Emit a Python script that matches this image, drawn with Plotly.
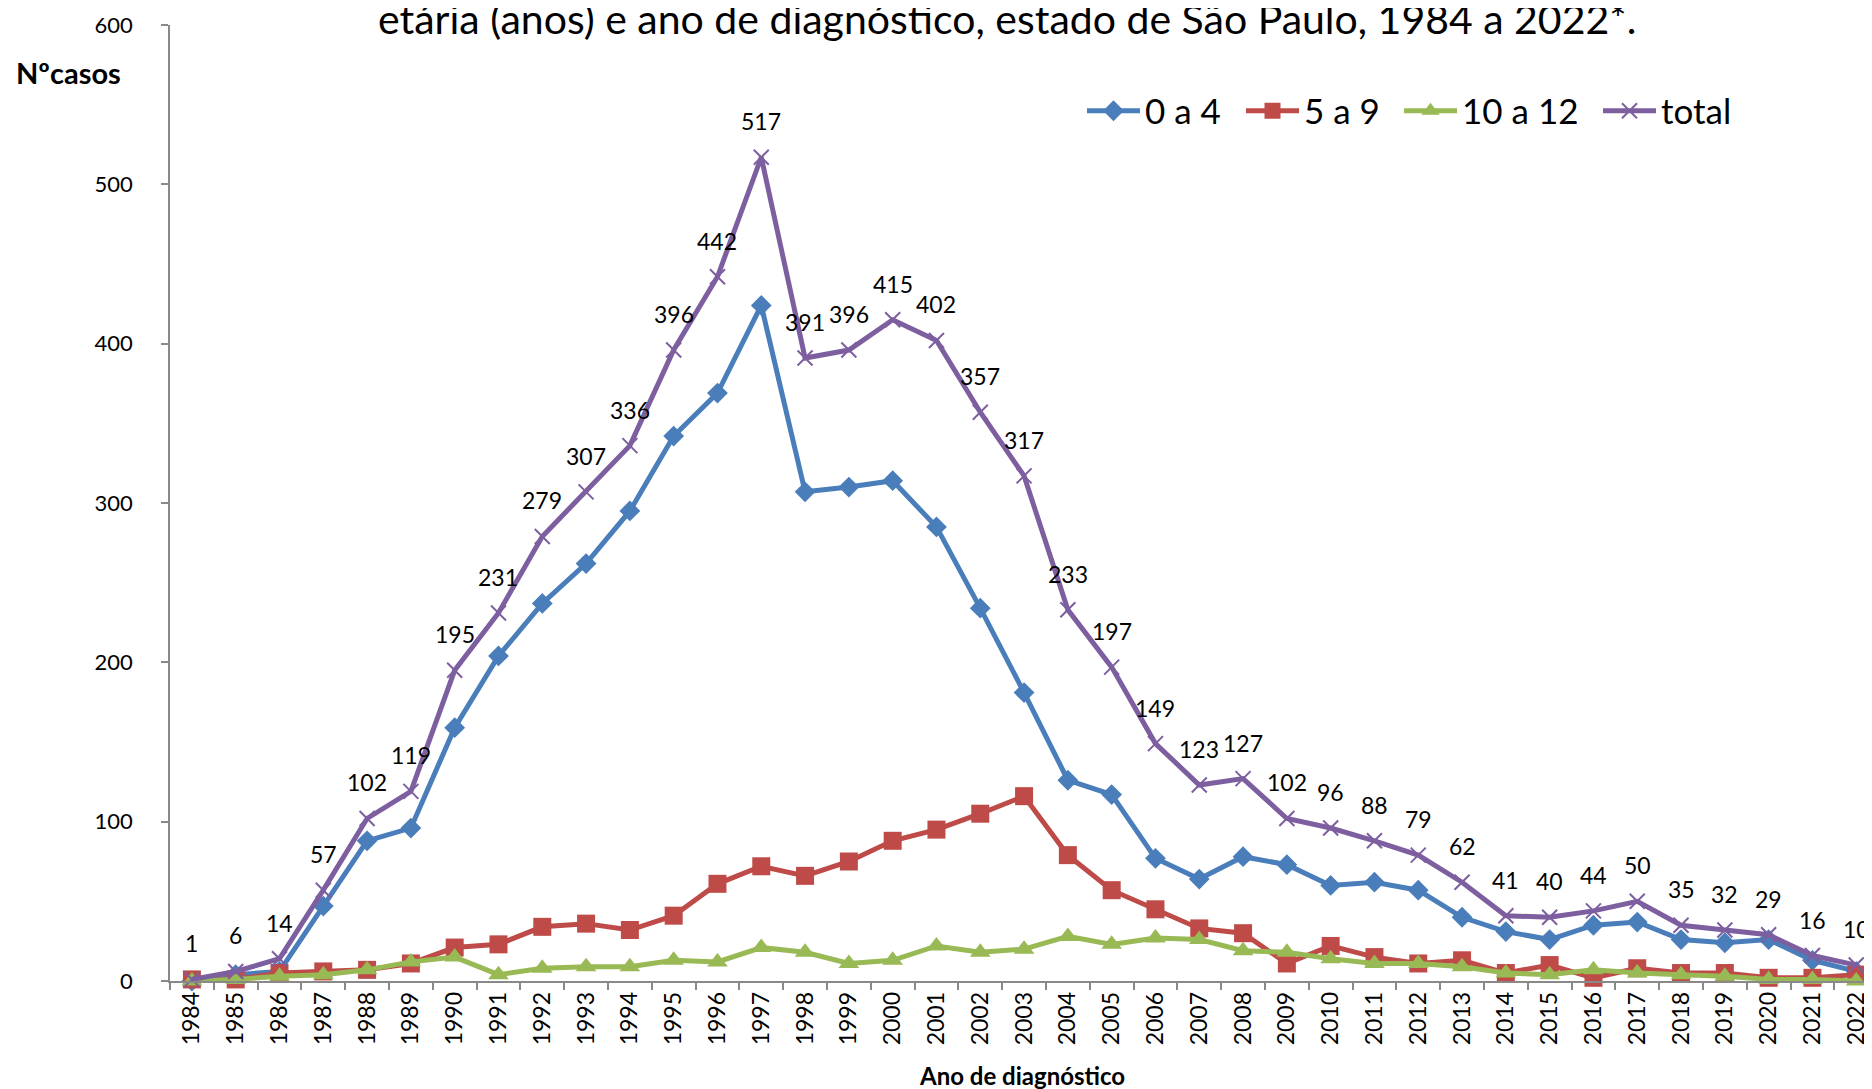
import plotly.graph_objects as go

years = [str(y) for y in range(1984, 2023)]
age_0_4 = [0, 4, 6, 47, 88, 96, 159, 204, 237, 262, 295, 342, 369, 424, 307, 310, 314, 285, 234, 181,
           126, 117, 77, 64, 78, 73, 60, 62, 57, 40, 31, 26, 35, 37, 26, 24, 26, 13, 6]
age_5_9 = [1, 1, 5, 6, 7, 11, 21, 23, 34, 36, 32, 41, 61, 72, 66, 75, 88, 95, 105, 116,
           79, 57, 45, 33, 30, 11, 22, 15, 11, 13, 5, 10, 2, 8, 5, 5, 2, 2, 4]
age_10_12 = [0, 1, 3, 4, 7, 12, 15, 4, 8, 9, 9, 13, 12, 21, 18, 11, 13, 22, 18, 20,
             28, 23, 27, 26, 19, 18, 14, 11, 11, 9, 5, 4, 7, 5, 4, 3, 1, 1, 0]
total = [1, 6, 14, 57, 102, 119, 195, 231, 279, 307, 336, 396, 442, 517, 391, 396, 415, 402, 357, 317,
         233, 197, 149, 123, 127, 102, 96, 88, 79, 62, 41, 40, 44, 50, 35, 32, 29, 16, 10]
series_names = ["0 a 4", "5 a 9", "10 a 12", "total"]

title_text = "etária (anos) e ano de diagnóstico, estado de São Paulo, 1984 a 2022*."
y_title = "Nºcasos"
x_title = "Ano de diagnóstico"

FONT = "Lato"
fig = go.Figure()

styles = [
    dict(color="#4A7EBB", symbol="diamond", size=16, lw=91),
    dict(color="#BE4B48", symbol="square", size=18, lw=90),
    dict(color="#98B954", symbol="triangle-up", size=18, lw=131),
]
for name, vals, st in zip(series_names[:3], [age_0_4, age_5_9, age_10_12], styles):
    fig.add_trace(go.Scatter(
        x=years, y=vals, name=name, mode="lines+markers",
        line=dict(color=st["color"], width=5),
        marker=dict(symbol=st["symbol"], size=st["size"], color=st["color"]),
        cliponaxis=False, legendwidth=st["lw"],
    ))

fig.add_trace(go.Scatter(
    x=years, y=total, name=series_names[3], mode="lines+markers",
    line=dict(color="#7D5FA0", width=5),
    marker=dict(symbol="x-thin", size=15, color="#7D5FA0",
                line=dict(color="#7D5FA0", width=2)),
    cliponaxis=False,
))

for i, v in enumerate(total):
    fig.add_annotation(x=i, y=v, xref="x", yref="y", text=str(v), showarrow=False,
                       yshift=36, font=dict(family=FONT, size=23, color="black"))

# page body has an 8px default margin; work in screenshot pixels
OFF = 8
FW, FH = 1872 - OFF, 1089 - OFF
PL, PT, PB, PR = 170, 25, 981, 1872  # plot area in screenshot px
L, T, B, R = PL - OFF, PT - OFF, FH - (PB - OFF), 0
pw = FW - L - R
ph = FH - T - B


def px_x(sx):
    return (sx - PL) / pw


def px_y(sy):
    return (PB - sy) / ph


fig.add_annotation(text=title_text, xref="paper", yref="paper", x=px_x(1007), y=px_y(45),
                   xanchor="center", yanchor="bottom", showarrow=False,
                   font=dict(family=FONT, size=41, color="black"))
fig.add_annotation(text="<b>" + y_title + "</b>", xref="paper", yref="paper", x=px_x(14), y=px_y(72),
                   xanchor="left", yanchor="middle", showarrow=False,
                   font=dict(family=FONT, size=29, color="black"))
fig.add_annotation(text="<b>" + x_title + "</b>", xref="paper", yref="paper", x=px_x(1022), y=px_y(1075),
                   xanchor="center", yanchor="middle", showarrow=False,
                   font=dict(family=FONT, size=24, color="black"))

fig.update_layout(
    width=FW, height=FH,
    margin=dict(l=L, r=R, t=T, b=B),
    paper_bgcolor="white", plot_bgcolor="white",
    font=dict(family=FONT, color="black"),
    showlegend=True,
    legend=dict(orientation="h", x=px_x(1082), y=px_y(111), xanchor="left", yanchor="middle",
                font=dict(family=FONT, size=35, color="black"), bgcolor="rgba(0,0,0,0)",
                tracegroupgap=0, itemwidth=53),
    xaxis=dict(
        type="category", range=[-0.5, 38.36], showgrid=False,
        showline=True, linecolor="#898989", linewidth=1.5,
        ticks="outside", tickson="boundaries", ticklen=7, tickcolor="#898989", tickwidth=1.5,
        tickangle=-90, tickfont=dict(family=FONT, size=23, color="black"),
    ),
    yaxis=dict(
        range=[0, 600], dtick=100, showgrid=False, zeroline=False,
        showline=True, linecolor="#898989", linewidth=1.5,
        ticks="outside", ticklen=7, tickcolor="#898989", tickwidth=1.5,
        tickfont=dict(family=FONT, size=22, color="black"), ticklabelstandoff=24,
    ),
)

fig.write_html("out.html")
